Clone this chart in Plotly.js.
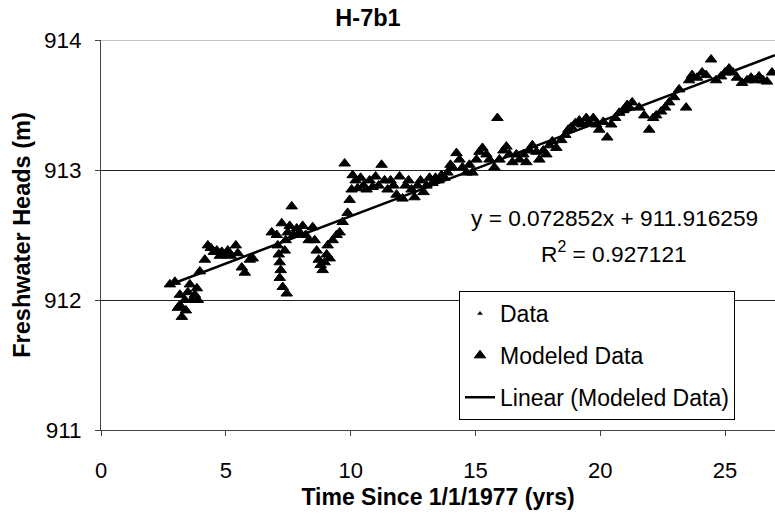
<!DOCTYPE html>
<html>
<head>
<meta charset="utf-8">
<script src="https://cdn.plot.ly/plotly-3.0.1.min.js"></script>
<style>html,body{margin:0;padding:0;background:#fff;}#chart{width:775px;height:516px;}</style>
</head>
<body>
<div id="chart"></div>
<script>
// Time since 1/1/1977 (yrs)
const timeYrs = [
  2.76, 2.96, 3.08, 3.16, 3.16, 3.24, 3.36, 3.40, 3.48, 3.56, 3.64, 3.76, 3.84, 3.88, 3.96, 4.16,
  4.28, 4.40, 4.52, 4.64, 4.76, 4.84, 4.96, 5.08, 5.20, 5.40, 5.48, 5.64, 5.76, 5.96, 6.08, 6.84,
  7.04, 7.08, 7.12, 7.16, 7.20, 7.16, 7.24, 7.28, 7.36, 7.44, 7.40, 7.48, 7.64, 7.56, 7.72, 7.84,
  7.96, 8.08, 8.20, 8.32, 8.48, 8.56, 8.64, 8.72, 8.80, 8.88, 8.96, 9.04, 9.16, 9.08, 9.28, 9.44,
  9.56, 9.68, 9.88, 9.76, 9.96, 10.04,
  10.08, 10.20, 10.28, 10.40, 10.52, 10.64, 10.76, 10.88, 11.00, 11.12, 11.24, 11.36, 11.48, 11.60,
  11.72, 11.84, 11.96, 12.08, 12.20, 12.32, 12.44, 12.56, 12.68, 12.80, 12.92, 13.04, 13.16, 13.28,
  13.40, 13.52, 13.64, 13.76, 13.88,
  14.00, 14.08, 14.24, 14.36, 14.48, 14.64, 14.76, 14.88, 15.04, 15.16, 15.28, 15.44, 15.56, 15.76,
  15.88, 15.96, 16.12, 16.24, 16.36, 16.48, 16.64, 16.76, 16.92, 17.04, 17.16, 17.28, 17.44, 17.56,
  17.72, 17.84, 17.96, 18.08, 18.24,
  18.44, 18.60, 18.72, 18.84, 19.00, 19.16, 19.28, 19.44, 19.56, 19.72, 19.84, 19.96, 20.12, 20.28,
  20.44, 20.60, 20.76, 20.92, 21.08, 21.16, 21.28,
  21.56, 21.76, 21.96, 22.12, 22.24, 22.44, 22.60, 22.76, 22.96, 23.16, 23.44, 23.56, 23.68, 23.88,
  24.08, 24.24, 24.44, 24.64, 24.84, 25.00, 25.16, 25.32, 25.48, 25.68, 25.88, 26.04, 26.20, 26.36,
  26.52, 26.68, 26.88
];
// Freshwater heads (m)
const headsM = [
  912.12, 912.14, 911.94, 912.04, 911.96, 911.87, 912.00, 911.92, 912.06, 912.12, 912.00, 912.04, 912.09, 912.00, 912.22, 912.31,
  912.42, 912.40, 912.37, 912.38, 912.34, 912.37, 912.35, 912.38, 912.34, 912.42, 912.36, 912.25, 912.21, 912.31, 912.32, 912.52,
  912.50, 912.42, 912.35, 912.29, 912.23, 912.17, 912.59, 912.10, 912.38, 912.05, 912.46, 912.52, 912.72, 912.57, 912.50, 912.55,
  912.52, 912.57, 912.50, 912.46, 912.56, 912.46, 912.38, 912.31, 912.27, 912.23, 912.29, 912.35, 912.32, 912.42, 912.46, 912.50,
  912.52, 912.60, 912.67, 913.05, 912.77, 912.85,
  912.96, 912.92, 912.86, 912.94, 912.88, 912.85, 912.92, 912.87, 912.95, 912.88, 913.04, 912.92, 912.85, 912.92,
  912.88, 912.81, 912.95, 912.78, 912.88, 912.92, 912.85, 912.79, 912.88, 912.92, 912.83, 912.88, 912.94, 912.90,
  912.94, 912.92, 912.96, 912.94, 912.98,
  913.04, 913.02, 913.13, 913.08, 913.02, 912.98, 913.04, 912.98, 913.08, 913.14, 913.17, 913.12, 913.08, 913.02,
  913.40, 913.08, 913.15, 913.18, 913.12, 913.06, 913.12, 913.08, 913.12, 913.06, 913.15, 913.19, 913.14, 913.08,
  913.15, 913.12, 913.19, 913.22, 913.17,
  913.23, 913.27, 913.31, 913.33, 913.36, 913.38, 913.35, 913.40, 913.37, 913.40, 913.35, 913.31, 913.37, 913.25,
  913.35, 913.40, 913.44, 913.46, 913.50, 913.48, 913.52,
  913.48, 913.42, 913.31, 913.40, 913.42, 913.45, 913.48, 913.52, 913.56, 913.62, 913.48, 913.69, 913.73, 913.71,
  913.75, 913.73, 913.85, 913.69, 913.72, 913.75, 913.78, 913.75, 913.71, 913.67, 913.69, 913.71, 913.69, 913.72,
  913.69, 913.68, 913.75
];
// Trendline from the equation shown on the chart
const slope = 0.072852;
const intercept = 911.916259;
const trendX = [2.76, 27];
const trendY = trendX.map(x => slope * x + intercept);

const xTickVals = [0, 5, 10, 15, 20, 25];
const yTickVals = [911, 912, 913, 914];

const FONT = 'Liberation Sans, Arial, sans-serif';

const traces = [
  {
    x: timeYrs, y: headsM, type: 'scatter', mode: 'markers', name: 'Data',
    legendgroup: 'a',
    marker: {symbol: 'triangle-up', size: 5, color: '#000'}
  },
  {
    x: timeYrs, y: headsM, type: 'scatter', mode: 'markers', name: 'Modeled Data',
    legendgroup: 'b',
    marker: {symbol: 'triangle-up', size: 10, color: '#000', line: {color: '#000', width: 1}}
  },
  {
    x: trendX, y: trendY, type: 'scatter', mode: 'lines', name: 'Linear (Modeled Data)',
    legendgroup: 'c',
    line: {color: '#000', width: 2.5}
  }
];

const layout = {
  width: 775, height: 516,
  margin: {l: 101, r: 0, t: 40, b: 86},
  paper_bgcolor: '#fff', plot_bgcolor: '#fff',
  font: {family: FONT, size: 22, color: '#000'},
  title: {
    text: '<b>H-7b1</b>', font: {family: FONT, size: 23.5, color: '#000'},
    x: 368 / 775, xanchor: 'center', xref: 'container',
    y: 1 - 18 / 516, yanchor: 'middle', yref: 'container'
  },
  xaxis: {
    range: [0, 27], tickvals: xTickVals, ticktext: xTickVals.map(String),
    ticks: 'outside', ticklen: 5, tickcolor: '#444', showline: true, linecolor: '#444', linewidth: 1,
    showgrid: false, zeroline: false, tickfont: {size: 22}, ticklabelstandoff: 16,
    title: {text: '<b>Time Since 1/1/1977 (yrs)</b>', font: {size: 23}, standoff: 6}
  },
  yaxis: {
    range: [911, 914], tickvals: yTickVals, ticktext: yTickVals.map(String),
    ticks: 'outside', ticklen: 5, tickcolor: '#444', showline: true, linecolor: '#444', linewidth: 1,
    showgrid: true, gridcolor: '#222', gridwidth: 1, zeroline: false, tickfont: {size: 22.5},
    ticklabelstandoff: 9,
    title: {text: '<b>Freshwater Heads (m)</b>', font: {size: 23.5}, standoff: 6}
  },
  shapes: [
    {type: 'line', xref: 'paper', yref: 'y', x0: 0, x1: 1, y0: 914, y1: 914,
     line: {color: '#888', width: 1}, layer: 'below'}
  ],
  legend: {
    x: (459 - 101) / 674, y: (430 - 291) / 390, xanchor: 'left', yanchor: 'top',
    bgcolor: '#fff', bordercolor: '#000', borderwidth: 1,
    font: {family: FONT, size: 23, color: '#000'},
    tracegroupgap: 9, traceorder: 'grouped', itemsizing: 'trace',
    entrywidth: 250, entrywidthmode: 'pixels'
  },
  annotations: [
    {
      text: 'y = 0.072852x + 911.916259', xref: 'paper', yref: 'paper',
      x: (614 - 101) / 674, y: (430 - 218) / 390, xanchor: 'center', yanchor: 'middle',
      showarrow: false, font: {family: FONT, size: 22.7, color: '#000'}
    },
    {
      text: 'R<sup>2</sup> = 0.927121', xref: 'paper', yref: 'paper',
      x: (614 - 101) / 674, y: (430 - 252) / 390, xanchor: 'center', yanchor: 'middle',
      showarrow: false, font: {family: FONT, size: 22.7, color: '#000'}
    }
  ],
  showlegend: true
};

Plotly.newPlot('chart', traces, layout, {displayModeBar: false, staticPlot: true});
</script>
</body>
</html>
